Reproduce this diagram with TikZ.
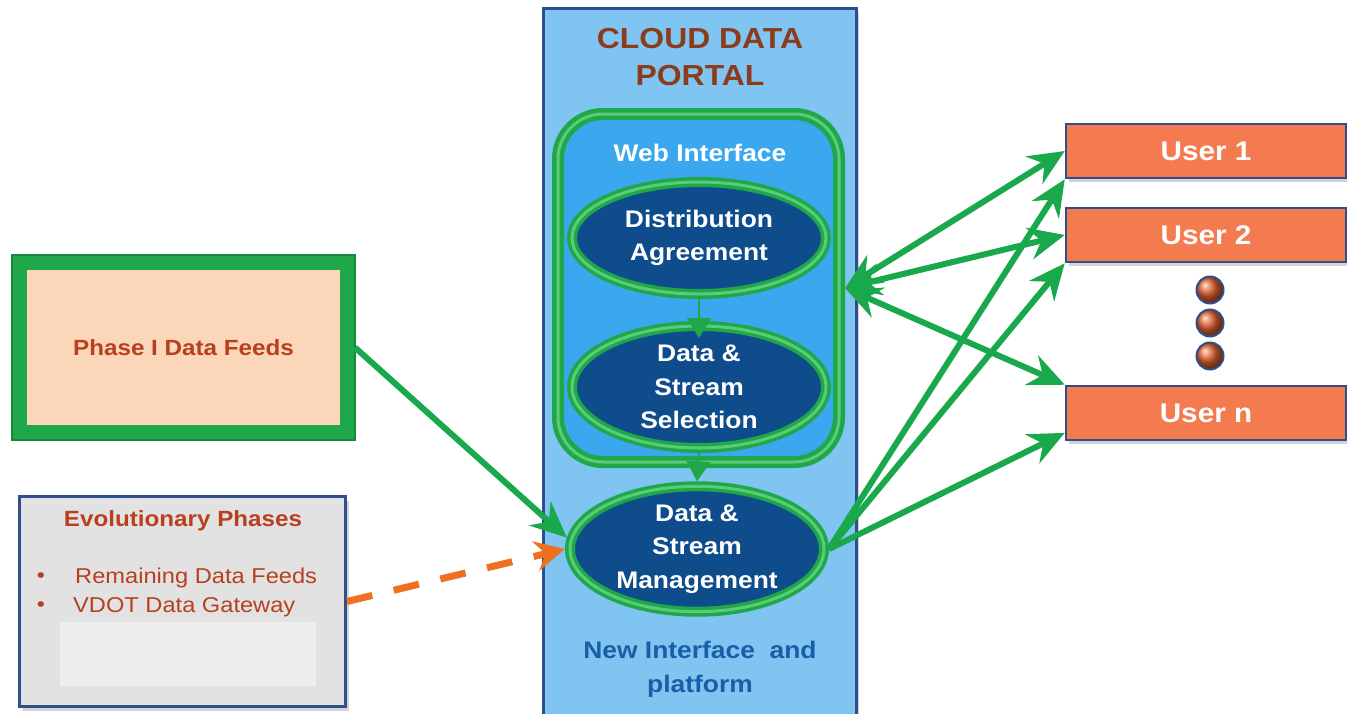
\documentclass[tikz,border=0pt]{standalone}
\usepackage{fontspec}
\setmainfont{Liberation Sans}[FakeStretch=1.1]
\usetikzlibrary{shapes.geometric,arrows.meta,shadows,calc}
\definecolor{portalfill}{HTML}{80C4F2}
\definecolor{portalline}{HTML}{2E4F8A}
\definecolor{webfill}{HTML}{3BA7EE}
\definecolor{gborder}{HTML}{1FA84A}
\definecolor{gdark}{HTML}{168A3A}
\definecolor{glight}{HTML}{5CCB78}
\definecolor{ellfill}{HTML}{0E4C8C}
\definecolor{garrowc}{HTML}{19A84B}
\definecolor{orangec}{HTML}{F07023}
\definecolor{titlebrown}{HTML}{8A3C1C}
\definecolor{newblue}{HTML}{1A5EA8}
\definecolor{peach}{HTML}{FCD6B8}
\definecolor{redbrown}{HTML}{B8401F}
\definecolor{evolfill}{HTML}{E2E2E2}
\definecolor{evolinner}{HTML}{EEEEEE}
\definecolor{userfill}{HTML}{F47B50}
\definecolor{dotfill}{HTML}{E0602E}
\begin{document}
\begin{tikzpicture}[x=1pt,y=-1pt,
  shadowed/.style={drop shadow={shadow xshift=3pt,shadow yshift=-4pt,opacity=0.35}},
  ellnode/.style={ellipse,draw=gborder,line width=10pt,fill=ellfill,inner sep=0pt,
     text=white,align=center,font=\fontsize{24}{33.5}\selectfont\bfseries,shadowed,
     postaction={draw=glight,line width=3pt}},
  garrow/.style={draw=garrowc,line width=6pt,-{Stealth[length=36pt,width=32pt,inset=12pt]}},
  gdouble/.style={draw=garrowc,line width=6pt,{Stealth[length=36pt,width=32pt,inset=12pt]}-{Stealth[length=36pt,width=32pt,inset=12pt]}},
  oarrow/.style={draw=orangec,line width=7pt,dash pattern=on 26pt off 22pt,-{Stealth[length=30pt,width=30pt,inset=10pt]}},
  minitri/.style={draw=gborder,line width=2pt,-{Triangle[length=20pt,width=24pt]}},
  userbox/.style={rectangle,draw=portalline,line width=2.5pt,fill=userfill,minimum width=280pt,
     minimum height=54pt,inner sep=0pt,text=white,font=\fontsize{27}{30}\selectfont\bfseries,shadowed},
  dotball/.style={circle,draw=portalline,line width=2pt,ball color=dotfill,minimum size=27pt,inner sep=0pt}
]
\useasboundingbox (0,0) rectangle (1347,713);
% portal
\node[rectangle,draw=portalline,line width=3pt,fill=portalfill,minimum width=313pt,minimum height=712pt,inner sep=0pt,shadowed] (portal) at (699.5,364) {};
\node[text=titlebrown,align=center,font=\fontsize{29}{37}\selectfont\bfseries] (title) at (700,57) {CLOUD DATA\\PORTAL};
% web interface
\node[rectangle,rounded corners=45pt,draw=gborder,line width=12pt,fill=webfill,minimum width=281pt,minimum height=348pt,inner sep=0pt,shadowed,
  postaction={draw=glight,line width=3pt}] (web) at (698.5,288) {};
\node[text=white,font=\fontsize{24}{28}\selectfont\bfseries] (weblbl) at (700,153) {Web Interface};
% ellipses
\node[ellnode,minimum width=254pt,minimum height=112pt] (da) at (699,238) {Distribution\\Agreement};
\node[ellnode,minimum width=254pt,minimum height=122pt] (ds) at (699,387) {Data \&\\Stream\\Selection};
\node[ellnode,minimum width=254pt,minimum height=114pt] (mgmt) at (697,549) {Data \&\\Stream\\Management};
\draw[minitri] (da.south) -- ($(ds.north)+(0,17)$);
\draw[minitri] (ds.south) -- (mgmt.north);
\node[text=newblue,align=center,font=\fontsize{24}{34}\selectfont\bfseries] (newif) at (700,669) {New Interface~ and\\platform};
% phase I
\node[rectangle,draw=gborder,line width=15pt,fill=peach,minimum width=328pt,minimum height=170pt,inner sep=0pt,
  text=redbrown,font=\fontsize{22}{24}\selectfont\bfseries,shadowed] (phase) at (183.5,347.5) {Phase I Data Feeds};
\draw[gdark,line width=2pt] (phase.north west) rectangle (phase.south east);
% evolutionary
\node[rectangle,draw=portalline,line width=3pt,fill=evolfill,minimum width=326pt,minimum height=210pt,inner sep=0pt,shadowed] (evol) at (182.5,601.5) {};
\fill[evolinner] (60,622) rectangle (316,686);
\node[text=redbrown,font=\fontsize{22}{24}\selectfont\bfseries] (evoltitle) at (183,521) {Evolutionary Phases};
\node[text=redbrown,font=\fontsize{21}{22}\selectfont] (b1) at (41,578) {•};
\node[text=redbrown,font=\fontsize{21}{22}\selectfont] (b2) at (41,607) {•};
\node[text=redbrown,anchor=west,font=\fontsize{21.5}{22}\selectfont,inner sep=0pt] (r1) at (75,578) {Remaining Data Feeds};
\node[text=redbrown,anchor=west,font=\fontsize{21.5}{22}\selectfont,inner sep=0pt] (r2) at (73,607) {VDOT Data Gateway};
% users
\node[userbox] (user1) at (1206,151) {User 1};
\node[userbox] (user2) at (1206,235) {User 2};
\node[userbox] (usern) at (1206,413) {User n};
\node[dotball] (d1) at (1210,290) {};
\node[dotball] (d2) at (1210,323) {};
\node[dotball] (d3) at (1210,356) {};
% connectors
\draw[garrow] (phase.east) -- (mgmt.175);
\draw[oarrow] (evol.east) -- (mgmt.west);
\draw[gdouble] (web.east) -- (user1.west);
\draw[gdouble] (web.east) -- (user2.west);
\draw[gdouble] (web.east) -- (usern.north west);
\draw[garrow] (mgmt.east) -- (user1.south west);
\draw[garrow] (mgmt.east) -- (user2.south west);
\draw[garrow] (mgmt.east) -- (usern.188);
\end{tikzpicture}
\end{document}
